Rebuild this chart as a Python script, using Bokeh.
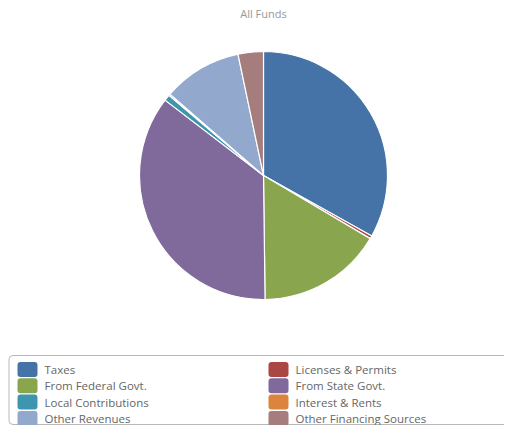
import math
from bokeh.plotting import figure
from bokeh.models import Range1d, ColumnDataSource
from bokeh.core.properties import value
from bokeh.embed import file_html
from bokeh.resources import INLINE

# ---- data ----
title_text = "All Funds"
categories = ["Taxes", "Licenses & Permits", "From Federal Govt.", "From State Govt.",
              "Local Contributions", "Interest & Rents", "Other Revenues", "Other Financing Sources"]
shares = [33.1, 0.4, 16.3, 35.6, 0.8, 0.2, 10.3, 3.3]
colors = ["#4572A7", "#AA4643", "#89A54E", "#80699B", "#3D96AE", "#DB843D", "#92A8CD", "#A47D7C"]

W, H = 504, 425
p = figure(width=W, height=H, output_backend="svg", toolbar_location=None,
           x_range=Range1d(0, W), y_range=Range1d(0, H), min_border=0,
           background_fill_color="white", border_fill_color="white")
p.axis.visible = False
p.grid.visible = False
p.outline_line_color = None

def py(img_y):
    return H - img_y

def px(img_x):
    return img_x

# ---- pie ----
total = sum(shares)
starts, ends = [], []
cum = 0.0
for s in shares:
    starts.append(math.pi / 2 - 2 * math.pi * cum / total)
    cum += s
    ends.append(math.pi / 2 - 2 * math.pi * cum / total)

src = ColumnDataSource(dict(start=starts, end=ends, color=colors, cat=categories))
p.wedge(x=px(263), y=py(175), radius=124, radius_units="screen",
        start_angle="start", end_angle="end", direction="clock",
        fill_color="color", line_color="white", line_width=1.2, source=src)

# ---- title ----
p.text(x=[px(263)], y=[py(13)], text=[title_text], text_align="center", text_baseline="middle",
       text_font=value("Open Sans"), text_font_size="11px", text_color="#999999")

# ---- legend box ----
p.quad(left=[px(8.5)], right=[W + 40], top=[py(355)], bottom=[py(424)],
       fill_color="white", line_color="#b8b8b8", line_width=1, border_radius=4)

row_y = [py(369 + 16.3 * (i // 2)) for i in range(len(categories))]
sw_x = [px(27) if i % 2 == 0 else px(278) for i in range(len(categories))]
tx_x = [px(44) if i % 2 == 0 else px(295) for i in range(len(categories))]
lsrc = ColumnDataSource(dict(sx=sw_x, tx=tx_x, y=row_y, color=colors, cat=categories))
p.rect(x="sx", y="y", width=20, height=15, width_units="screen", height_units="screen",
       fill_color="color", line_color=None, border_radius=3, source=lsrc)
p.text(x="tx", y="y", text="cat", text_baseline="middle", text_align="left",
       text_font=value("Open Sans"), text_font_size="11.5px", text_color="#666666", source=lsrc)

open("out.html", "w").write(file_html(p, INLINE))
